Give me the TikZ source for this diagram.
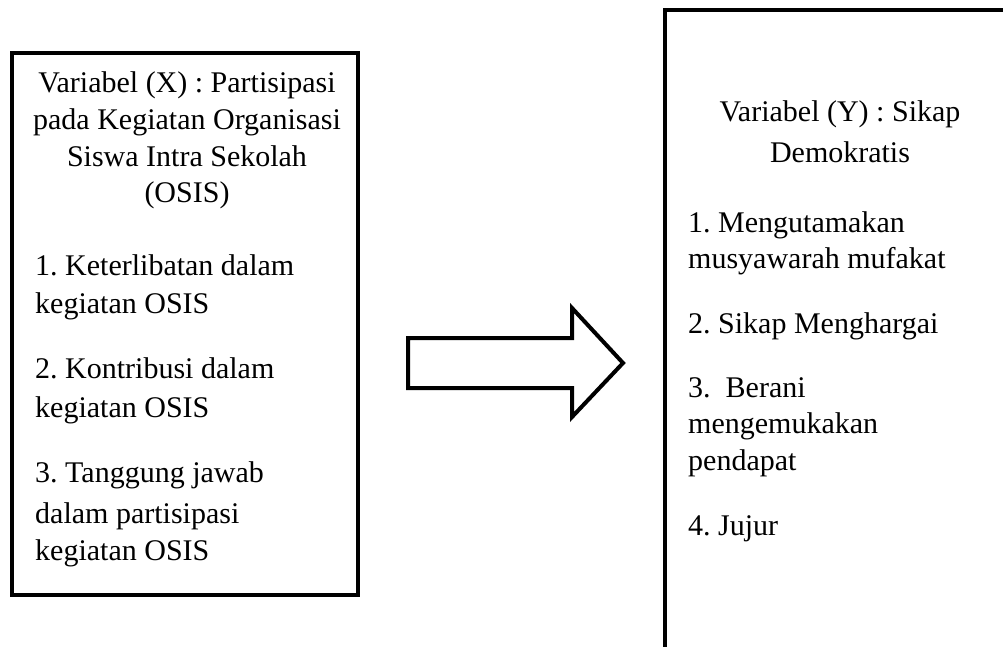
\documentclass[tikz,border=0pt]{standalone}
\usepackage{fontspec}
\setmainfont{Liberation Serif}
\begin{document}
\begin{tikzpicture}[x=1pt,y=-1pt,
  frame/.style={draw=black,line width=4pt,fill=white},
  ctext/.style={inner sep=0pt,anchor=base,font=\fontsize{30}{37}\selectfont\frenchspacing},
  ltext/.style={inner sep=0pt,anchor=base west,font=\fontsize{30}{37}\selectfont\frenchspacing}]
\useasboundingbox (0,0) rectangle (1003,647);
% left box
\draw[frame] (12,53) rectangle (358,595);
% right box (cropped by the page)
\begin{scope}
\clip (0,0) rectangle (1003,647);
\draw[frame] (665,10) rectangle (1030,700);
\end{scope}
% block arrow
\draw[line width=4pt,miter limit=10,line join=miter] (408,338) -- (572,338) -- (572,308) -- (623,363) -- (572,417) -- (572,388) -- (408,388) -- cycle;
% left texts
\node[ctext] (x1) at (187,93) {Variabel (X) : Partisipasi};
\node[ctext] (x2) at (187,130) {pada Kegiatan Organisasi};
\node[ctext] (x3) at (187,167) {Siswa Intra Sekolah};
\node[ctext] (x4) at (187,203) {(OSIS)};
\node[ltext] (a1) at (35,275) {1. Keterlibatan dalam};
\node[ltext] (a2) at (35,313) {kegiatan OSIS};
\node[ltext] (b1) at (35,378) {2. Kontribusi dalam};
\node[ltext] (b2) at (35,417) {kegiatan OSIS};
\node[ltext] (c1) at (35,482) {3. Tanggung jawab};
\node[ltext] (c2) at (35,523) {dalam partisipasi};
\node[ltext] (c3) at (35,560) {kegiatan OSIS};
% right texts
\node[ctext] (y1) at (840,122) {Variabel (Y) : Sikap};
\node[ctext] (y2) at (840,163) {Demokratis};
\node[ltext] (p1) at (688,232) {1. Mengutamakan};
\node[ltext] (p2) at (688,268) {musyawarah mufakat};
\node[ltext] (q1) at (688,333) {2. Sikap Menghargai};
\node[ltext] (r1) at (688,397) {3.\ \ Berani};
\node[ltext] (r2) at (688,433) {mengemukakan};
\node[ltext] (r3) at (688,470) {pendapat};
\node[ltext] (s1) at (688,535) {4. Jujur};
\end{tikzpicture}
\end{document}
